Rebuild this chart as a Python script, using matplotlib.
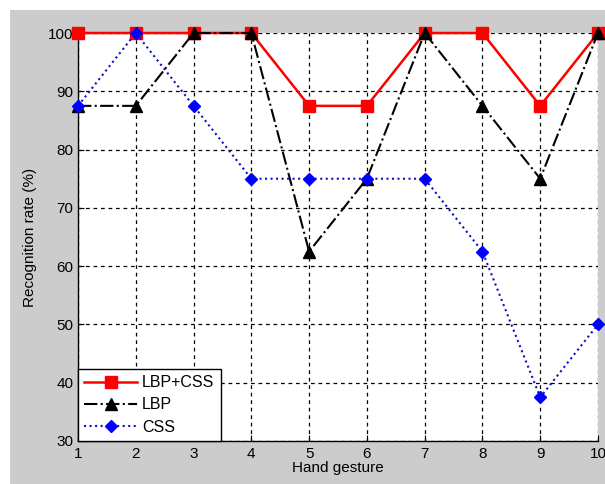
import matplotlib.pyplot as plt
from matplotlib.patches import Rectangle

plt.rcParams["font.family"] = ["Liberation Sans", "DejaVu Sans"]

gestures = [1, 2, 3, 4, 5, 6, 7, 8, 9, 10]
lbp_css = [100, 100, 100, 100, 87.5, 87.5, 100, 100, 87.5, 100]
lbp = [87.5, 87.5, 100, 100, 62.5, 75, 100, 87.5, 75, 100]
css = [87.5, 100, 87.5, 75, 75, 75, 75, 62.5, 37.5, 50]
y_ticks = [30, 40, 50, 60, 70, 80, 90, 100]

fig = plt.figure(figsize=(6.05, 4.84), dpi=100, facecolor="white")
# grey MATLAB-style figure area with a thin white margin at top/left
fig.patches.append(Rectangle((10 / 605, 0), 1, 1 - 10 / 484, transform=fig.transFigure,
                             facecolor="#cccccc", edgecolor="none", zorder=-10))

ax = fig.add_axes([78 / 605, 1 - 441 / 484, 520 / 605, 408 / 484])
ax.set_facecolor("white")

ax.plot(gestures, lbp_css, color="red", linestyle="-", linewidth=1.8,
        marker="s", markersize=8.5, markerfacecolor="red", markeredgecolor="red",
        label="LBP+CSS", zorder=3, clip_on=False)
ax.plot(gestures, lbp, color="black", linestyle="-.", linewidth=1.5,
        marker="^", markersize=8, markerfacecolor="black", markeredgecolor="black",
        label="LBP", zorder=4, clip_on=False)
ax.plot(gestures, css, color="#1010c0", linestyle=":", linewidth=1.5,
        marker="D", markersize=6.5, markerfacecolor="blue", markeredgecolor="blue",
        label="CSS", zorder=5, clip_on=False)

ax.set_xlim(1, 10)
ax.set_ylim(30, 100)
ax.set_xticks(gestures)
ax.set_yticks(y_ticks)
ax.tick_params(direction="in", length=4, labelsize=11, colors="black")
ax.tick_params(axis="x", pad=4)
ax.grid(True, color="black", linestyle=(0, (3, 3)), linewidth=0.9)
ax.set_axisbelow(True)
for side in ["top", "right"]:
    ax.spines[side].set_visible(False)
for side in ["left", "bottom"]:
    ax.spines[side].set_linewidth(1.0)

ax.set_xlabel("Hand gesture", fontsize=11, labelpad=0)
ax.set_ylabel("Recognition rate (%)", fontsize=11, labelpad=8)

leg = ax.legend(loc="lower left", bbox_to_anchor=(0, 0), borderaxespad=0,
                fontsize=11.5, fancybox=False, framealpha=1, edgecolor="black",
                handlelength=3.3, handletextpad=0.3, labelspacing=0.45,
                borderpad=0.4)
leg.get_frame().set_linewidth(1.0)
leg.set_zorder(10)

fig.savefig("out.png", dpi=100, facecolor=fig.get_facecolor())
